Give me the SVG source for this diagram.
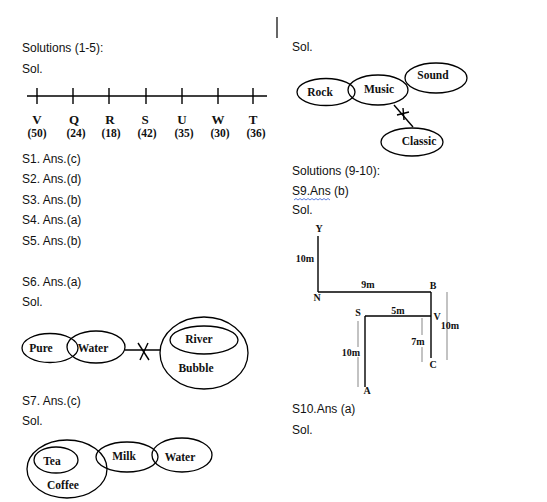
<svg xmlns="http://www.w3.org/2000/svg" width="547" height="502" viewBox="0 0 547 502">
<style>
.t{font-family:"Liberation Sans",Arial,sans-serif;font-size:12px;fill:#111}
.b{font-family:"Liberation Serif","Times New Roman",serif;font-weight:bold;font-size:11.5px;fill:#111;text-anchor:middle}
.s{font-family:"Liberation Serif","Times New Roman",serif;font-weight:bold;font-size:10px;fill:#111;text-anchor:middle}
.n{font-family:"Liberation Serif","Times New Roman",serif;font-weight:bold;font-size:11.5px;fill:#111;text-anchor:middle}
.L{font-size:13px}
.e{fill:none;stroke:#000;stroke-width:1.3}
.k{stroke:#000;stroke-width:1.4;fill:none}
.g{stroke:#b4b4b4;stroke-width:1.6;fill:none}
</style>
<rect width="547" height="502" fill="#fff"/>
<line x1="277" y1="17" x2="277" y2="38" stroke="#000" stroke-width="1.2"/>
<g id="text-left">
<text class="t" x="22" y="52">Solutions (1-5):</text>
<text class="t" x="22" y="73">Sol.</text>
<text class="t" x="22" y="163">S1. Ans.(c)</text>
<text class="t" x="22" y="183">S2. Ans.(d)</text>
<text class="t" x="22" y="204">S3. Ans.(b)</text>
<text class="t" x="22" y="224">S4. Ans.(a)</text>
<text class="t" x="22" y="245">S5. Ans.(b)</text>
<text class="t" x="22" y="286">S6. Ans.(a)</text>
<text class="t" x="22" y="306">Sol.</text>
<text class="t" x="22" y="405">S7. Ans.(c)</text>
<text class="t" x="22" y="425">Sol.</text>
</g>
<g id="text-right">
<text class="t" x="292" y="51">Sol.</text>
<text class="t" x="292" y="175">Solutions (9-10):</text>
<text class="t" x="292" y="195">S9.Ans (b)</text>
<polyline points="294,200 296,198.5 298,200 300,198.5 302,200 304,198.5 306,200 308,198.5 310,200 312,198.5 314,200 316,198.5 318,200 320,198.5 322,200 324,198.5 326,200 328,198.5 330,200" fill="none" stroke="#3a62d8" stroke-width="0.8"/>
<text class="t" x="292" y="214">Sol.</text>
<text class="t" x="292" y="413">S10.Ans (a)</text>
<text class="t" x="292" y="434">Sol.</text>
</g>
<g id="numberline">
<line class="k" x1="27" y1="96" x2="267" y2="96"/>
<line class="k" x1="37" y1="88" x2="37" y2="104"/>
<line class="k" x1="73" y1="88" x2="73" y2="104"/>
<line class="k" x1="109" y1="88" x2="109" y2="104"/>
<line class="k" x1="146" y1="88" x2="146" y2="104"/>
<line class="k" x1="182" y1="88" x2="182" y2="104"/>
<line class="k" x1="218" y1="88" x2="218" y2="104"/>
<line class="k" x1="253" y1="88" x2="253" y2="104"/>
<text class="n L" x="37" y="124">V</text>
<text class="n L" x="74" y="124">Q</text>
<text class="n L" x="110" y="124">R</text>
<text class="n L" x="145" y="124">S</text>
<text class="n L" x="182" y="124">U</text>
<text class="n L" x="218" y="124">W</text>
<text class="n L" x="253" y="124">T</text>
<text class="n" x="37" y="137">(50)</text>
<text class="n" x="76" y="137">(24)</text>
<text class="n" x="111" y="137">(18)</text>
<text class="n" x="147" y="137">(42)</text>
<text class="n" x="184" y="137">(35)</text>
<text class="n" x="220" y="137">(30)</text>
<text class="n" x="256" y="137">(36)</text>
</g>
<g id="rock"><ellipse class="e" cx="326" cy="92" rx="29" ry="13.5"/><text class="b" x="320" y="96">Rock</text></g>
<g id="music"><ellipse class="e" cx="378" cy="90" rx="30" ry="15"/><text class="b" x="379" y="93">Music</text></g>
<g id="sound"><ellipse class="e" cx="436" cy="78" rx="31" ry="15"/><text class="b" x="433" y="79">Sound</text></g>
<g id="classic"><ellipse class="e" cx="412" cy="142" rx="31" ry="14"/><text class="b" x="419" y="145">Classic</text></g>
<g id="pure"><ellipse class="e" cx="50" cy="348" rx="28" ry="14.5"/><text class="b" x="41" y="352">Pure</text></g>
<g id="water1"><ellipse class="e" cx="96" cy="347" rx="29" ry="16"/><text class="b" x="93" y="352">Water</text></g>
<g id="bubble"><ellipse class="e" cx="204" cy="353" rx="44" ry="36"/><text class="b" x="196" y="372">Bubble</text></g>
<g id="river"><ellipse class="e" cx="204" cy="340" rx="34" ry="14"/><text class="b" x="199" y="343">River</text></g>
<g id="coffee"><ellipse class="e" cx="67" cy="469" rx="40" ry="29"/><text class="b" x="63" y="489">Coffee</text></g>
<g id="tea"><ellipse class="e" cx="56" cy="460" rx="22" ry="13"/><text class="b" x="52" y="465">Tea</text></g>
<g id="milk"><ellipse class="e" cx="127" cy="457" rx="31" ry="15"/><text class="b" x="124" y="460">Milk</text></g>
<g id="water2"><ellipse class="e" cx="182" cy="455" rx="30" ry="17"/><text class="b" x="180" y="461">Water</text></g>
<g id="connectors">
<line class="k" x1="394" y1="105" x2="413" y2="127"/>
<line class="k" x1="397" y1="115" x2="409" y2="112"/>
<line class="k" x1="403" y1="108" x2="404" y2="120"/>
<line class="k" x1="125" y1="350" x2="160" y2="350"/>
<line class="k" x1="138" y1="343" x2="149" y2="360"/>
<line class="k" x1="148" y1="343" x2="140" y2="360"/>
</g>
<g id="directions">
<line class="k" x1="318" y1="236" x2="318" y2="292" stroke-width="1.6"/>
<line class="k" x1="318" y1="292" x2="431" y2="292" stroke-width="1.6"/>
<line class="k" x1="431" y1="292" x2="431" y2="358" stroke-width="1.6"/>
<line class="k" x1="365" y1="316" x2="431" y2="316" stroke-width="1.6"/>
<line class="k" x1="365" y1="316" x2="365" y2="387" stroke-width="1.6"/>
<line class="g" x1="358" y1="321" x2="358" y2="347"/>
<line class="g" x1="358" y1="357" x2="358" y2="387"/>
<line class="g" x1="422" y1="318" x2="422" y2="335"/>
<line class="g" x1="422" y1="347" x2="422" y2="362"/>
<line class="g" x1="447" y1="292" x2="447" y2="360"/>
<text class="s" x="319" y="232">Y</text>
<text class="s" x="305" y="262">10m</text>
<text class="s" x="368" y="288">9m</text>
<text class="s" x="317" y="301">N</text>
<text class="s" x="433" y="289">B</text>
<text class="s" x="358" y="316">S</text>
<text class="s" x="398" y="314">5m</text>
<text class="s" x="437" y="320">V</text>
<text class="s" x="450" y="329">10m</text>
<text class="s" x="418" y="345">7m</text>
<text class="s" x="351" y="356">10m</text>
<text class="s" x="433" y="368">C</text>
<text class="s" x="367" y="394">A</text>
</g>
</svg>
